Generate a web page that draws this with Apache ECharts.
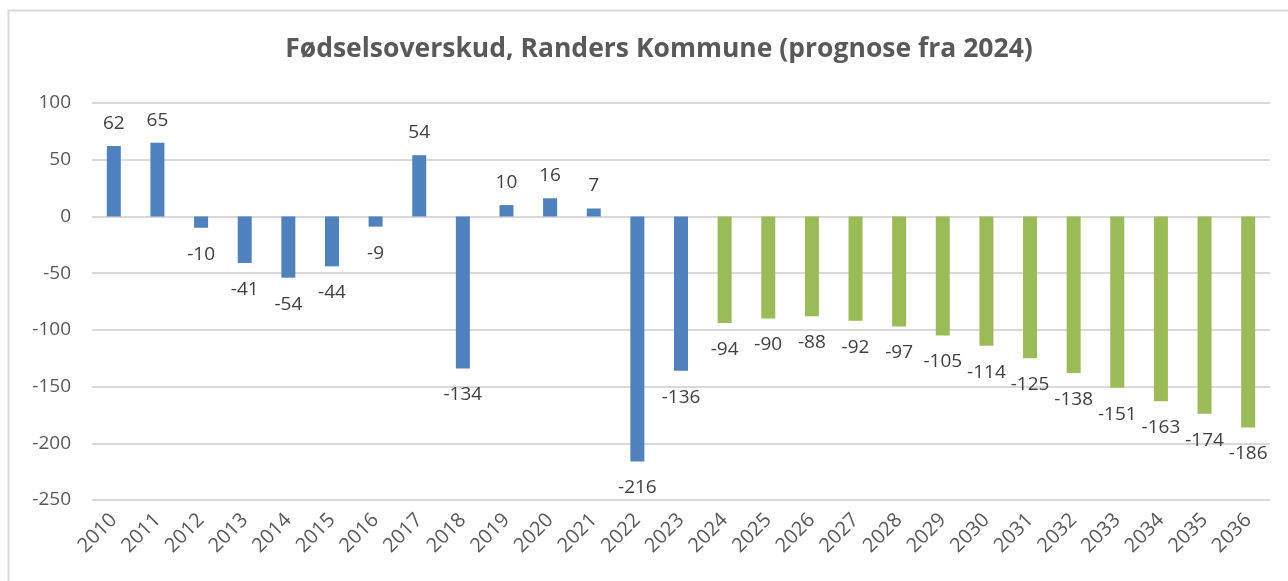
<!DOCTYPE html>
<html>
<head>
<meta charset="utf-8">
<script src="https://cdn.jsdelivr.net/npm/echarts@6/dist/echarts.min.js"></script>
<style>
  html, body { margin: 0; padding: 0; background: #fff; }
  #main { width: 1288px; height: 581px; }
</style>
</head>
<body>
<div id="main"></div>
<script>
// år (kategorier)
var years = ['2010','2011','2012','2013','2014','2015','2016','2017','2018','2019','2020','2021','2022','2023',
  '2024','2025','2026','2027','2028','2029','2030','2031','2032','2033','2034','2035','2036'];
// faktisk fødselsoverskud 2010-2023
var actual = [62, 65, -10, -41, -54, -44, -9, 54, -134, 10, 16, 7, -216, -136];
// prognose 2024-2036
var forecast = [-94, -90, -88, -92, -97, -105, -114, -125, -138, -151, -163, -174, -186];
var yTicks = { min: -250, max: 100, interval: 50 };

var font = 'Open Sans';

// byg data med label over/under søjlen
function buildData(vals, offset) {
  var out = [];
  var i;
  for (i = 0; i < years.length; i++) {
    var k = i - offset;
    if (k < 0 || k >= vals.length) { out.push('-'); continue; }
    out.push({
      value: vals[k],
      label: vals[k] < 0 ? { position: 'bottom', distance: 17 } : { position: 'top', distance: 13 }
    });
  }
  return out;
}

var labelStyle = {
  show: true,
  fontFamily: font,
  fontSize: 19,
  color: '#404040'
};

var chart = echarts.init(document.getElementById('main'));
var option = {
  backgroundColor: '#fff',
  animation: false,
  title: {
    text: 'Fødselsoverskud, Randers Kommune (prognose fra 2024)',
    left: 654,
    textAlign: 'center',
    top: 31,
    textStyle: { fontFamily: font, fontSize: 26.5, fontWeight: 'bold', color: '#595959' }
  },
  graphic: [{
    type: 'rect',
    shape: { x: 8.5, y: 10.5, width: 1300, height: 600 },
    style: { fill: null, stroke: '#d9d9d9', lineWidth: 2 },
    silent: true
  }],
  grid: { left: 92, right: 18, top: 103, bottom: 81 },
  xAxis: {
    type: 'category',
    data: years,
    axisLine: { show: false, onZero: false },
    axisTick: { show: false },
    axisLabel: { rotate: 45, fontFamily: font, fontSize: 20, color: '#595959', margin: 17, interval: 0 }
  },
  yAxis: {
    type: 'value',
    min: yTicks.min,
    max: yTicks.max,
    interval: yTicks.interval,
    axisLine: { show: false },
    axisTick: { show: false },
    axisLabel: { fontFamily: font, fontSize: 19, color: '#595959', margin: 21 },
    splitLine: { lineStyle: { color: '#d9d9d9', width: 2 } }
  },
  series: [{
    name: 'Faktisk',
    type: 'bar',
    barWidth: 14,
    barGap: '-100%',
    itemStyle: { color: '#4f81bd' },
    label: labelStyle,
    data: buildData(actual, 0)
  }, {
    name: 'Prognose',
    type: 'bar',
    barWidth: 14,
    barGap: '-100%',
    itemStyle: { color: '#9bbb59' },
    label: labelStyle,
    data: buildData(forecast, actual.length)
  }]
};
chart.setOption(option);
</script>
</body>
</html>
